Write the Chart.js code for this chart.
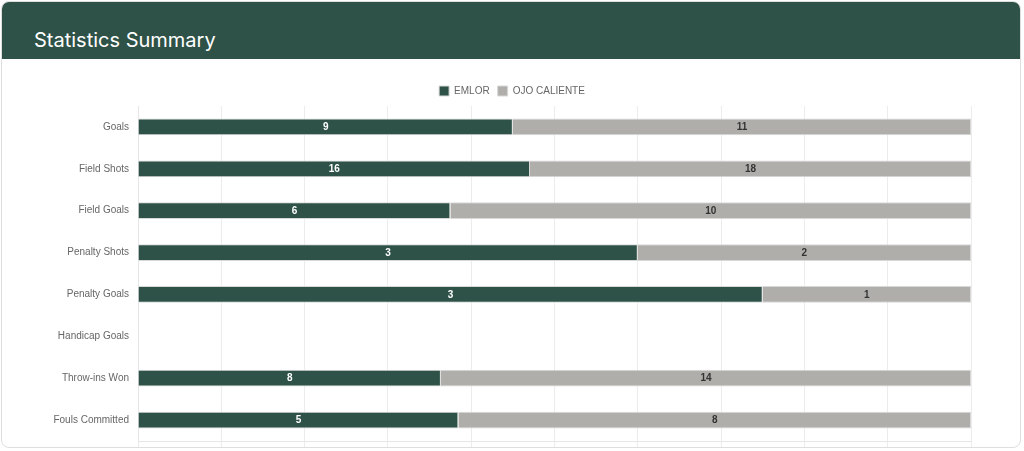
<!DOCTYPE html>
<html>
<head>
<meta charset="utf-8">
<script src="https://cdn.jsdelivr.net/npm/chart.js@4"></script>
<style>
  html, body { margin: 0; padding: 0; background: #fff; }
  body { width: 1024px; height: 451px; position: relative; overflow: hidden; }
  .card {
    position: absolute; left: 1px; top: 1px; width: 1018px; height: 445px;
    border: 1px solid #dedede; border-radius: 8px; overflow: hidden; background: #fff;
  }
  .card-header {
    height: 57px; background: #2e5247; color: #fff;
    font-family: Inter, "Noto Sans", sans-serif; font-size: 20px;
    line-height: 24px; padding: 26px 0 0 32px; box-sizing: border-box;
  }
  #chart-wrap { position: absolute; left: 0; top: 0; width: 1024px; height: 451px; }
</style>
</head>
<body>
<div class="card"><div class="card-header">Statistics Summary</div></div>
<div id="chart-wrap"><canvas id="stats-canvas"></canvas></div>
<script>
const categories = ['Goals', 'Field Shots', 'Field Goals', 'Penalty Shots', 'Penalty Goals', 'Handicap Goals', 'Throw-ins Won', 'Fouls Committed'];
const team_names = ['EMLOR', 'OJO CALIENTE'];
const emlor_values = [9, 16, 6, 3, 3, 0, 8, 5];
const ojo_values = [11, 18, 10, 2, 1, 0, 14, 8];

function to_percent(mine, other){
  return mine.map(function(v, i){
    const total = v + other[i];
    return total ? v / total * 100 : 0;
  });
}

const raw_values = [emlor_values, ojo_values];

// draws the raw counts in the middle of each bar piece
const bar_labels = {
  id: 'bar_labels',
  afterDatasetsDraw: function(chart){
    const ctx = chart.ctx;
    ctx.save();
    ctx.font = 'bold 10px "Liberation Sans", Arial, sans-serif';
    ctx.textAlign = 'center';
    ctx.textBaseline = 'middle';
    chart.data.datasets.forEach(function(ds, di){
      const meta = chart.getDatasetMeta(di);
      ctx.fillStyle = di === 0 ? '#ffffff' : '#333333';
      meta.data.forEach(function(bar, i){
        const v = raw_values[di][i];
        if(!v) return;
        ctx.fillText(String(v), (bar.x + bar.base) / 2, bar.y + 0.5);
      });
    });
    ctx.restore();
  }
};

const ctx = document.getElementById('stats-canvas');
const myChart = new Chart(ctx, {
  type: 'bar',
  data: {
    labels: categories,
    datasets: [{
      label: team_names[0],
      data: to_percent(emlor_values, ojo_values),
      backgroundColor: '#2e5247',
      borderColor: '#d8d8d8',
      borderWidth: 1,
      barPercentage: 0.5,
      categoryPercentage: 0.8
    }, {
      label: team_names[1],
      data: to_percent(ojo_values, emlor_values),
      backgroundColor: '#b0aeab',
      borderColor: '#d8d8d8',
      borderWidth: 1,
      barPercentage: 0.5,
      categoryPercentage: 0.8
    }]
  },
  options: {
    indexAxis: 'y',
    responsive: true,
    maintainAspectRatio: false,
    animation: false,
    font: { family: '"Liberation Sans", Arial, sans-serif', size: 10 },
    layout: {
      padding: { top: 78, right: 53, bottom: 4, left: 53 }
    },
    scales: {
      x: {
        stacked: true,
        min: 0,
        max: 100,
        ticks: { display: false, stepSize: 10 },
        grid: { color: '#ececec', tickLength: 6 },
        border: { color: '#e6e6e6' }
      },
      y: {
        stacked: true,
        afterFit: function(scale){
          scale.width = 85;
          scale.paddingTop = 0;
          scale.paddingBottom = 0;
        },
        ticks: { color: '#666', padding: 9, font: { size: 10 } },
        grid: { display: false, drawTicks: false },
        border: { color: '#e6e6e6' }
      }
    },
    plugins: {
      legend: {
        position: 'top',
        labels: { boxWidth: 10, boxHeight: 10, padding: 8, color: '#666', font: { size: 10 } }
      },
      tooltip: { enabled: false }
    }
  },
  plugins: [bar_labels]
});
</script>
</body>
</html>
